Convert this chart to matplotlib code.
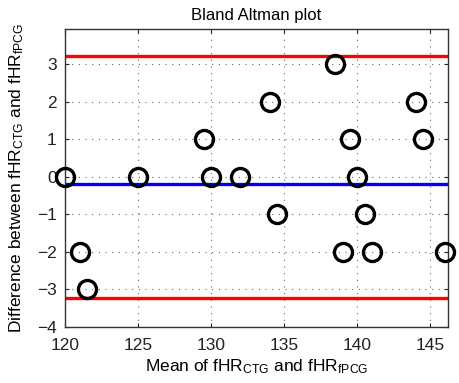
import matplotlib
matplotlib.use("Agg")
import matplotlib.pyplot as plt
import numpy as np

plt.rcParams['font.family'] = ['Liberation Sans', 'DejaVu Sans']
plt.rcParams['mathtext.fontset'] = 'custom'
plt.rcParams['mathtext.rm'] = 'Liberation Sans'
plt.rcParams['mathtext.it'] = 'Liberation Sans'

mean_vals = [120, 121, 121.5, 125, 129.5, 130, 132, 134, 134.5, 138.5,
             139, 139.5, 140, 140.5, 141, 144, 144.5, 146]
diff_vals = [0, -2, -3, 0, 1, 0, 0, 2, -1, 3,
             -2, 1, 0, -1, -2, 2, 1, -2]
bias = -0.2
upper_loa = 3.22
lower_loa = -3.23
line_x = [120, 146.2]
xticks = [120, 125, 130, 135, 140, 145]
yticks = [-4, -3, -2, -1, 0, 1, 2, 3]

fig = plt.figure(figsize=(4.59, 3.83), dpi=100)
ax = fig.add_axes([0.1416, 0.147, 0.976 - 0.1416, 0.923 - 0.147])

ax.plot(line_x, [upper_loa, upper_loa], color='#ff0000', lw=2.4, zorder=2)
ax.plot(line_x, [lower_loa, lower_loa], color='#ff0000', lw=2.4, zorder=2)
ax.plot(line_x, [bias, bias], color='#0000ff', lw=2.4, zorder=2)
ax.plot(mean_vals, diff_vals, linestyle='none', marker='o', markersize=13,
        markerfacecolor='none', markeredgecolor='black', markeredgewidth=2.4,
        zorder=3, clip_on=False)

ax.set_xlim(120, 146.2)
ax.set_ylim(-4, 3.92)
ax.set_xticks(xticks)
ax.set_yticks(yticks)
ax.set_yticklabels(['\u22124', '\u22123', '\u22122', '\u22121', '0', '1', '2', '3'])
ax.grid(True, linestyle=(0, (1, 5)), color='#666666', linewidth=0.8)
ax.tick_params(direction='in', length=3, width=0.8, labelsize=12.5,
               top=True, right=True, colors='#222222')
ax.tick_params(axis='x', pad=8)
ax.tick_params(axis='y', pad=6)
for s in ax.spines.values():
    s.set_color('#333333')
    s.set_linewidth(1.0)

ax.set_title('Bland Altman plot', fontsize=12, pad=7)
ax.set_xlabel(r'Mean of fHR$_{\mathrm{CTG}}$ and fHR$_{\mathrm{fPCG}}$', fontsize=12.5, labelpad=3)
ax.set_ylabel(r'Difference between fHR$_{\mathrm{CTG}}$ and fHR$_{\mathrm{fPCG}}$', fontsize=12.5, labelpad=8)

fig.savefig('out.png', dpi=100)
